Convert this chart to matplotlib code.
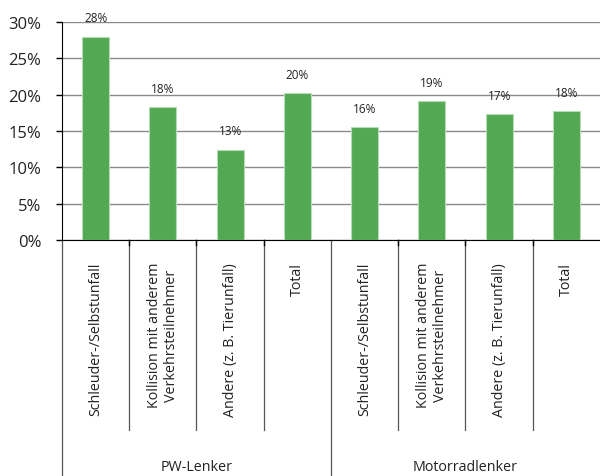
import numpy as np
from matplotlib import pyplot as plt
from matplotlib import transforms

# data
categories = [
    "Schleuder-/Selbstunfall",
    "Kollision mit anderem\nVerkehrsteilnehmer",
    "Andere (z. B. Tierunfall)",
    "Total",
    "Schleuder-/Selbstunfall",
    "Kollision mit anderem\nVerkehrsteilnehmer",
    "Andere (z. B. Tierunfall)",
    "Total",
]
values = [28.0, 18.3, 12.4, 20.2, 15.5, 19.1, 17.3, 17.7]
value_labels = ["28%", "18%", "13%", "20%", "16%", "19%", "17%", "18%"]
groups = ["PW-Lenker", "Motorradlenker"]
group_size = 4
yticks = [0, 5, 10, 15, 20, 25, 30]

plt.rcParams['font.family'] = ['Open Sans', 'DejaVu Sans']
text_color = "#222222"

fig = plt.figure(figsize=(6.0, 4.77), dpi=100)
ax = fig.add_axes([0.1033, 0.4948, 0.8967, 0.457])

x = np.arange(len(values))
ax.bar(x, values, width=0.4, color="#53a853", edgecolor="#b5ddb5", linewidth=0.8, zorder=3)

for xi, v, lab in zip(x, values, value_labels):
    ax.annotate(lab, (xi, v), xytext=(0, 9), textcoords="offset points",
                ha="center", va="bottom", fontsize=8.5, color=text_color)

ax.set_xlim(-0.5, len(values) - 0.5)
ax.set_ylim(0, 30)
ax.set_yticks(yticks)
ax.set_yticklabels([f"{t}%" for t in yticks], fontsize=12, color=text_color)
ax.yaxis.grid(True, color="#8a8a8a", linewidth=1.0, zorder=0)
ax.set_axisbelow(True)
ax.tick_params(axis="y", length=4, width=1, color="black", pad=11)
ax.set_xticks([])

for side in ["top", "right"]:
    ax.spines[side].set_visible(False)
ax.spines["left"].set_color("black")
ax.spines["bottom"].set_color("black")

trans = transforms.blended_transform_factory(ax.transData, ax.transAxes)

# category labels below the axis
for xi, cat in zip(x, categories):
    ax.text(xi, -0.1, cat, transform=trans, rotation=90, ha="center", va="top",
            multialignment="center", fontsize=10.3, color=text_color)

# category dividers
for b in np.arange(0.5, len(values) - 0.5, 1.0):
    if b == group_size - 0.5:
        continue
    ax.plot([b, b], [0, -0.872], transform=trans, color="#555555", linewidth=0.9, clip_on=False)
    ax.plot([b, b], [0, -0.025], transform=trans, color="black", linewidth=1.0, clip_on=False)

# group dividers and labels
for b in [-0.5, group_size - 0.5]:
    ax.plot([b, b], [0, -1.09], transform=trans, color="#555555", linewidth=0.9, clip_on=False)
for i, g in enumerate(groups):
    center = i * group_size + (group_size - 1) / 2
    ax.text(center, -1.04, g, transform=trans, ha="center", va="center",
            fontsize=10.3, color=text_color)

fig.savefig("out.png", dpi=100)
